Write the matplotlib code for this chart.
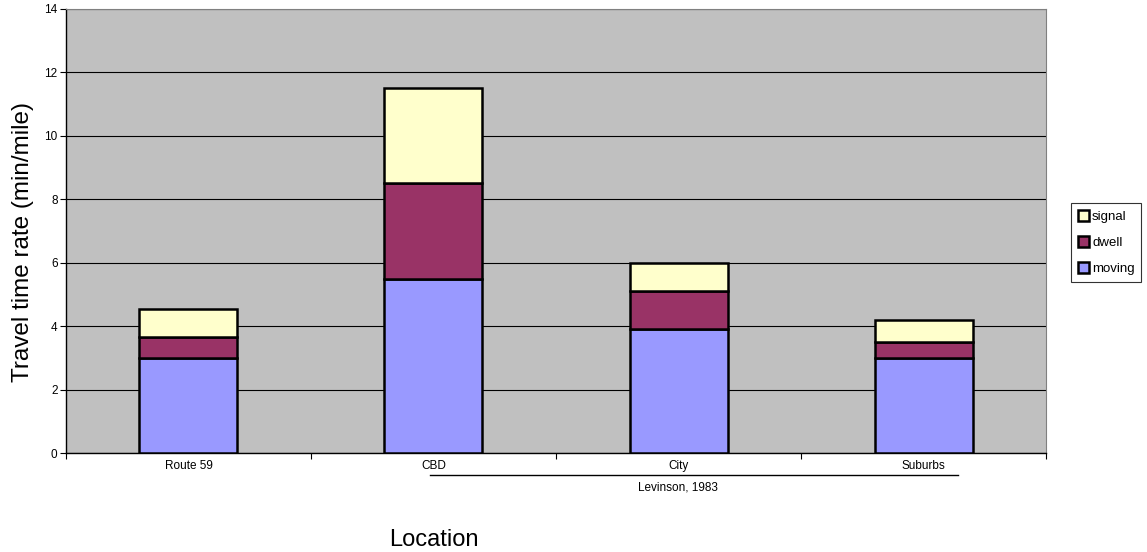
import matplotlib
matplotlib.use('Agg')
from matplotlib import pyplot as plt
from matplotlib import rcParams
from matplotlib.lines import Line2D
import numpy as np

rcParams['font.family'] = ['Liberation Sans', 'DejaVu Sans']

locations = ['Route 59', 'CBD', 'City', 'Suburbs']
moving = [3.0, 5.5, 3.9, 3.0]
dwell = [0.65, 3.0, 1.2, 0.5]
signal = [0.9, 3.0, 0.9, 0.7]

fig = plt.figure(figsize=(11.47, 5.52), dpi=100)
ax = fig.add_axes([0.0575, 0.179, 0.8545, 0.805])
ax.set_facecolor('#C0C0C0')

x = np.arange(len(locations))
moving = np.array(moving)
dwell = np.array(dwell)
signal = np.array(signal)
w = 0.4
kw = dict(width=w, edgecolor='k', linewidth=1.8, zorder=3)
b1 = ax.bar(x, moving, color='#9999FF', label='moving', **kw)
b2 = ax.bar(x, dwell, bottom=moving, color='#993366', label='dwell', **kw)
b3 = ax.bar(x, signal, bottom=moving + dwell, color='#FFFFCC', label='signal', **kw)

ax.set_xlim(-0.5, 3.5)
ax.set_ylim(0, 14)
ax.set_yticks(np.arange(0, 15, 2))
ax.yaxis.grid(True, color='k', linewidth=0.8, zorder=1)
ax.set_axisbelow(True)
ax.tick_params(axis='y', labelsize=8.5, length=4, width=0.8, pad=2)
ax.set_xticks(x)
ax.set_xticklabels(locations)
ax.set_xticks(np.arange(-0.5, 4, 1), minor=True)
ax.tick_params(axis='x', which='major', length=0, labelsize=8.5, pad=5)
ax.tick_params(axis='x', which='minor', length=4, width=0.8)
for s in ['top', 'right']:
    ax.spines[s].set_color('#808080')
for s in ['left', 'bottom']:
    ax.spines[s].set_color('k')
    ax.spines[s].set_linewidth(1)

ax.set_ylabel('Travel time rate (min/mile)', fontsize=17.5)
ax.yaxis.set_label_coords(-0.033, 0.475)
ax.text(0.375, -0.196, 'Location', transform=ax.transAxes, ha='center',
        va='center', fontsize=17)
ax.add_line(Line2D([0.371, 0.910], [-0.0495, -0.0495], transform=ax.transAxes,
                   color='k', linewidth=1, clip_on=False))
ax.text(0.624, -0.077, 'Levinson, 1983', transform=ax.transAxes, ha='center',
        va='center', fontsize=8.5)

leg = fig.legend(handles=[b3, b2, b1], loc='upper left',
                 bbox_to_anchor=(1071 / 1147, 1 - 203 / 552), fontsize=9.5,
                 frameon=True, fancybox=False, edgecolor='k',
                 handlelength=0.9, handleheight=0.9, handletextpad=0.2,
                 borderpad=0.5, borderaxespad=0, labelspacing=1.0)
leg.get_frame().set_linewidth(0.8)

fig.savefig('out.png', dpi=100)
